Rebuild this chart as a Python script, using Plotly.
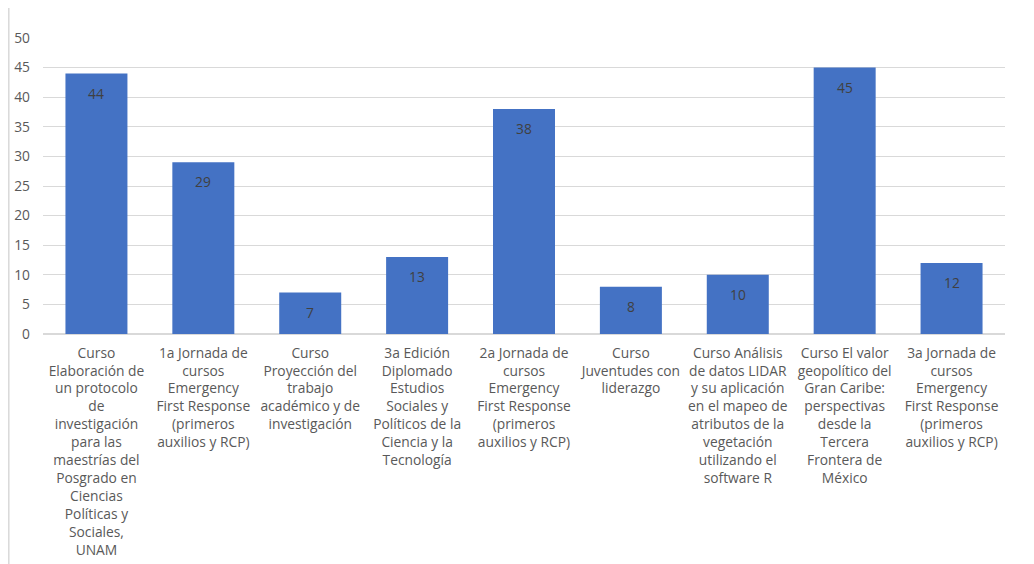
import plotly.graph_objects as go

categories = [
    "Curso<br>Elaboración de<br>un protocolo<br>de<br>investigación<br>para las<br>maestrías del<br>Posgrado en<br>Ciencias<br>Políticas y<br>Sociales,<br>UNAM",
    "1a Jornada de<br>cursos<br>Emergency<br>First Response<br>(primeros<br>auxilios y RCP)",
    "Curso<br>Proyección del<br>trabajo<br>académico y de<br>investigación",
    "3a Edición<br>Diplomado<br>Estudios<br>Sociales y<br>Políticos de la<br>Ciencia y la<br>Tecnología",
    "2a Jornada de<br>cursos<br>Emergency<br>First Response<br>(primeros<br>auxilios y RCP)",
    "Curso<br>Juventudes con<br>liderazgo",
    "Curso Análisis<br>de datos LIDAR<br>y su aplicación<br>en el mapeo de<br>atributos de la<br>vegetación<br>utilizando el<br>software R",
    "Curso El valor<br>geopolítico del<br>Gran Caribe:<br>perspectivas<br>desde la<br>Tercera<br>Frontera de<br>México",
    "3a Jornada de<br>cursos<br>Emergency<br>First Response<br>(primeros<br>auxilios y RCP)",
]
values = [44, 29, 7, 13, 38, 8, 10, 45, 12]
y_ticks = [0, 5, 10, 15, 20, 25, 30, 35, 40, 45, 50]

FONT = "'Open Sans', Lato, sans-serif"
GRAY = "#595959"
FS = 13.8

fig = go.Figure(
    go.Bar(
        x=categories,
        y=values,
        marker=dict(color="#4472c4", line=dict(width=0)),
        width=0.58,
        hoverinfo="x+y",
    )
)

# data labels just inside the top of each bar
for c, v in zip(categories, values):
    fig.add_annotation(
        x=c, y=v, text=str(v), showarrow=False,
        xref="x", yref="y", yanchor="top", yshift=-8,
        font=dict(family=FONT, size=FS, color="#404040"),
    )

# page body has an 8px margin, so the figure is drawn 8px in from the top-left
W, H = 1026, 556
ml, mr, mt, mb = 35, 29, 30, 230
pw, ph = W - ml - mr, H - mt - mb

fig.update_layout(
    width=W,
    height=H,
    margin=dict(l=ml, r=mr, t=mt, b=mb, autoexpand=False),
    paper_bgcolor="white",
    plot_bgcolor="white",
    showlegend=False,
    font=dict(family=FONT, size=FS, color=GRAY),
    xaxis=dict(
        showgrid=False,
        showline=True,
        linecolor="#d9d9d9",
        linewidth=1,
        ticks="",
        tickangle=0,
        tickfont=dict(family=FONT, size=FS, color=GRAY),
        automargin=False,
        ticklabelstandoff=6,
    ),
    yaxis=dict(
        range=[0, 50],
        tickvals=y_ticks,
        showgrid=True,
        gridcolor="#d9d9d9",
        gridwidth=1,
        zeroline=True,
        zerolinecolor="#d9d9d9",
        showline=False,
        ticks="",
        tickfont=dict(family=FONT, size=FS, color=GRAY),
        automargin=False,
        ticklabelstandoff=12,
    ),
)

# left border line of the chart frame
fig.add_shape(
    type="line",
    xref="paper", yref="paper",
    x0=(0.8 - ml) / pw, x1=(0.8 - ml) / pw,
    y0=-mb / ph - 0.1, y1=(H - mb) / ph + 0.1,
    line=dict(color="#d9d9d9", width=1.5),
)

fig.write_html("out.html")
